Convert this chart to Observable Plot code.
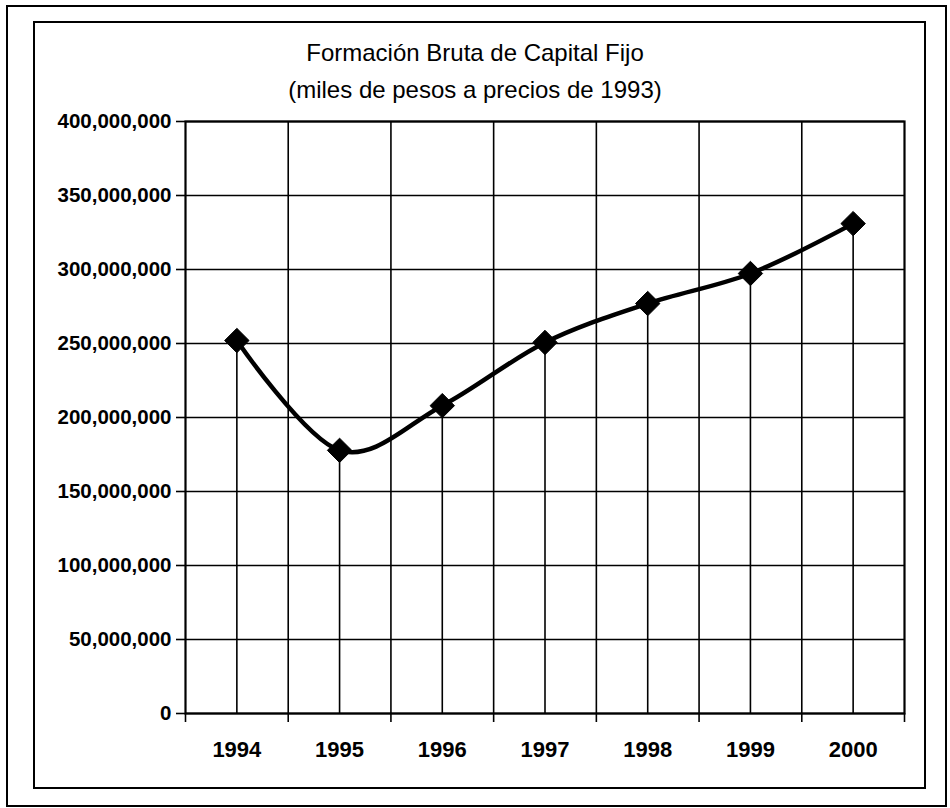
<!DOCTYPE html>
<html>
<head>
<meta charset="utf-8">
<script src="https://cdn.jsdelivr.net/npm/d3@7"></script>
<script src="https://cdn.jsdelivr.net/npm/@observablehq/plot@0.6"></script>
<style>
  html, body { margin: 0; padding: 0; background: white; }
  #wrap { position: relative; width: 950px; height: 808px; overflow: hidden; background: white; }
  #chart { position: absolute; left: 0; top: 0; }
  .frame { position: absolute; box-sizing: border-box; border-style: solid; border-color: black; pointer-events: none; }
  #title { position: absolute; left: 0; width: 950px; top: 34px; text-align: center;
           font-family: "Liberation Sans", Arial, sans-serif; font-size: 24px; line-height: 37px; color: black; }
</style>
</head>
<body>
<div id="wrap">
  <div id="chart"></div>
  <div class="frame" style="left:6px;top:5px;width:941px;height:802px;border-width:2.5px;"></div>
  <div class="frame" style="left:33px;top:21px;width:893px;height:768px;border-width:2px;"></div>
  <div id="title">Formación Bruta de Capital Fijo<br>(miles de pesos a precios de 1993)</div>
</div>
<script>
const years = [1994, 1995, 1996, 1997, 1998, 1999, 2000];
const values = [252000000, 177800000, 208000000, 250700000, 277000000, 297300000, 331000000];
const yTicks = [0, 50000000, 100000000, 150000000, 200000000, 250000000, 300000000, 350000000, 400000000];
const bandEdges = [1993.5, 1994.5, 1995.5, 1996.5, 1997.5, 1998.5, 1999.5, 2000.5];

const data = years.map((y, i) => ({year: y, value: values[i]}));

const chart = Plot.plot({
  width: 950,
  height: 808,
  marginLeft: 185,
  marginRight: 46,
  marginTop: 121,
  marginBottom: 95,
  style: {fontFamily: "'Liberation Sans', Arial, sans-serif", fontSize: "20px", fontWeight: "bold", color: "black", background: "transparent", overflow: "visible"},
  x: {type: "linear", domain: [bandEdges[0], bandEdges[bandEdges.length - 1]]},
  y: {domain: [0, 400000000]},
  marks: [
    Plot.gridY(yTicks, {stroke: "black", strokeOpacity: 1, strokeWidth: 1.6}),
    Plot.gridX(bandEdges.slice(1, -1), {stroke: "black", strokeOpacity: 1, strokeWidth: 1.6}),
    Plot.ruleX(data, {x: "year", y1: 0, y2: "value", stroke: "black", strokeWidth: 1.6}),
    Plot.axisY(yTicks, {tickFormat: d3.format(","), tickSize: 9, tickPadding: 5, strokeWidth: 1.6, label: null, fontSize: 20.5}),
    Plot.axisX(bandEdges, {tickSize: 9, tickFormat: () => "", strokeWidth: 1.6, label: null}),
    Plot.axisX(years, {tickSize: 0, tickPadding: 28, tickFormat: d => String(d), label: null, fontSize: 22}),
    Plot.frame({stroke: "black", strokeWidth: 2.2}),
    Plot.line(data, {x: "year", y: "value", curve: "cardinal", stroke: "black", strokeWidth: 4.5}),
    Plot.dot(data, {x: "year", y: "value", symbol: "diamond2", r: 11, fill: "black", stroke: "black", strokeWidth: 1})
  ]
});
document.getElementById("chart").appendChild(chart);
</script>
</body>
</html>
